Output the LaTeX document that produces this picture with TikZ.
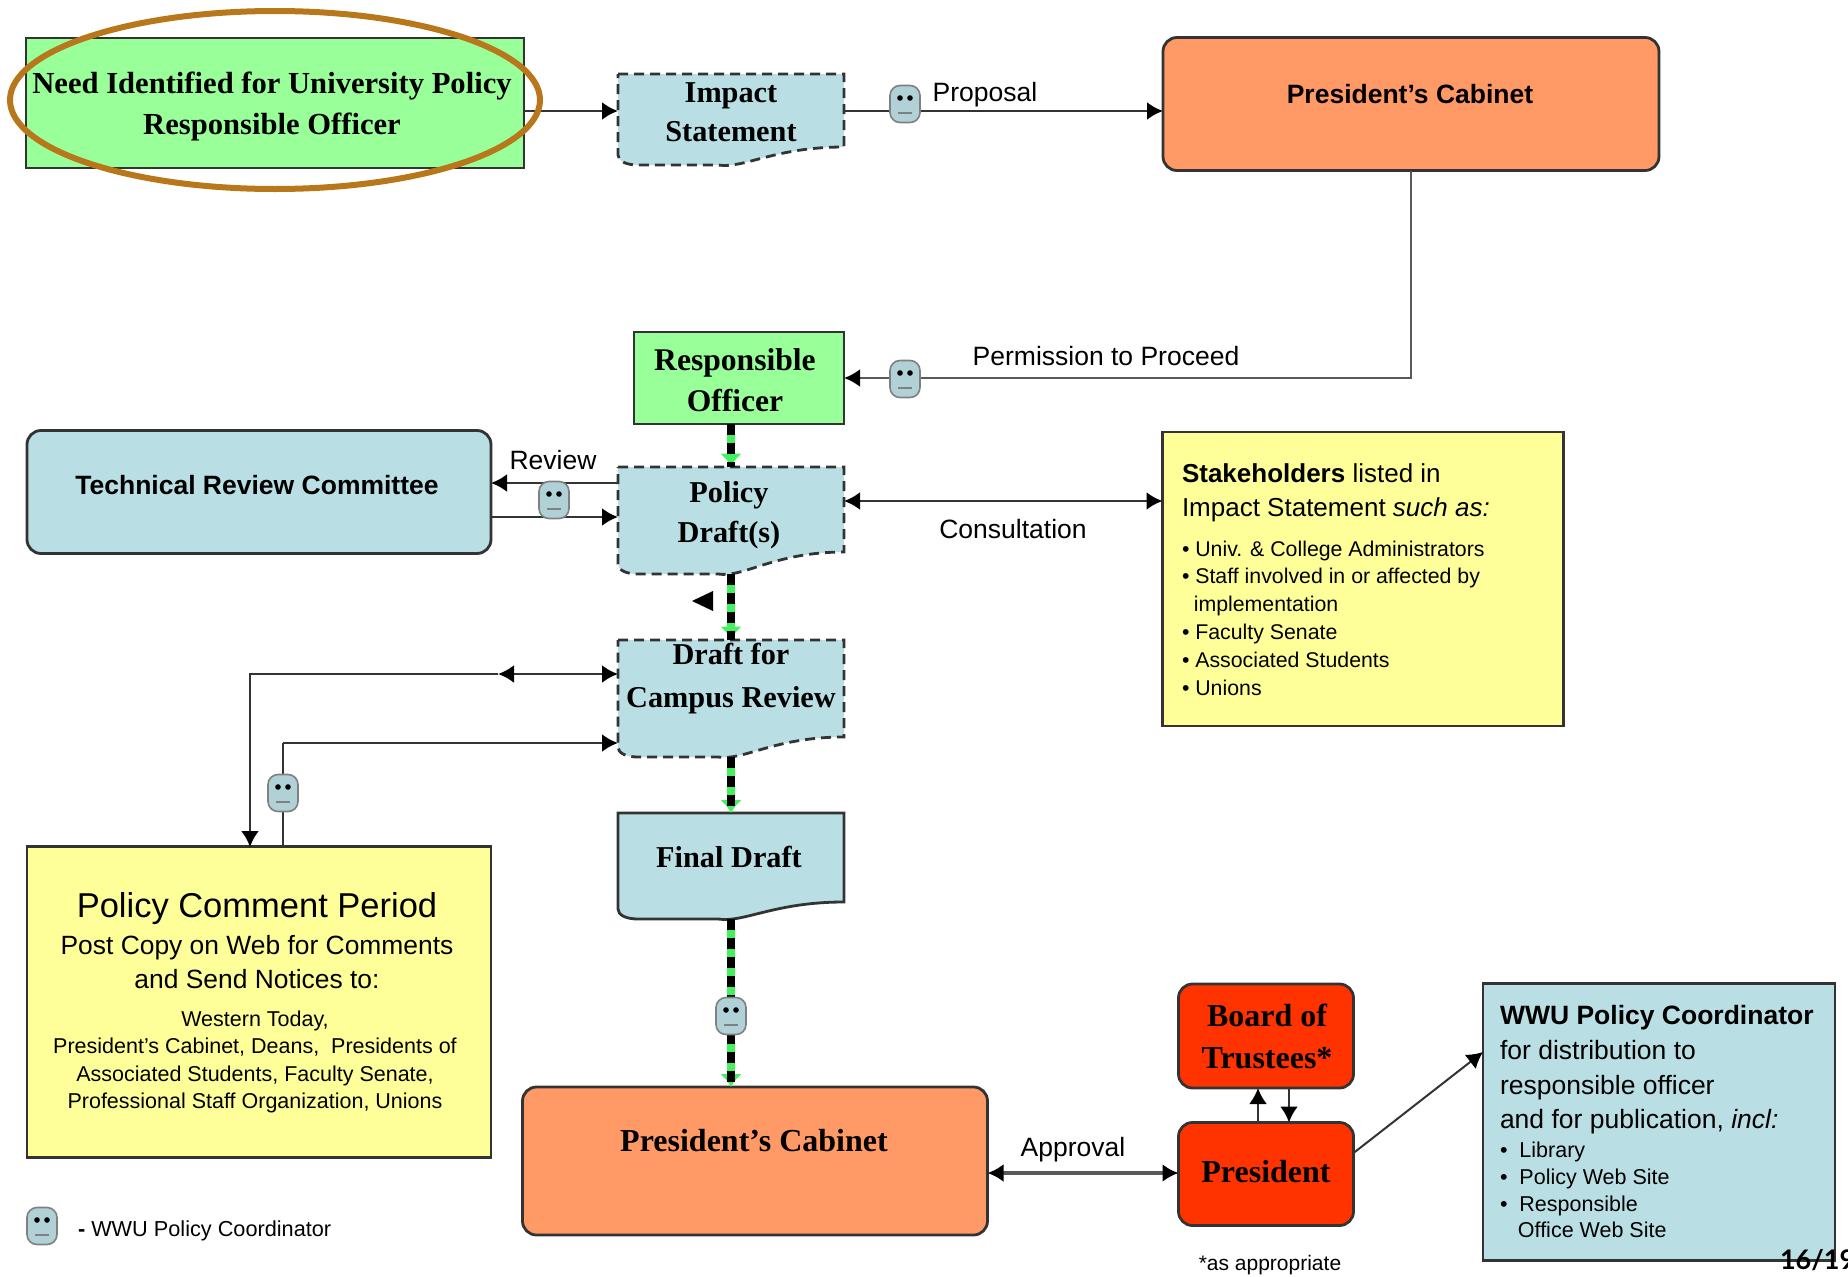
\documentclass[tikz,border=0pt]{standalone}
\usepackage{fontspec}
\usepackage{tikz}
\usetikzlibrary{arrows.meta,shapes.geometric}
\setmainfont{Liberation Serif}
\setsansfont{Liberation Sans}
\newfontfamily\pagefont{Lato}
\definecolor{hiblue}{HTML}{B9DFE4}
\definecolor{higreen}{HTML}{99FF99}
\definecolor{hiorange}{HTML}{FF9966}
\definecolor{hiyellow}{HTML}{FFFF99}
\definecolor{hired}{HTML}{FF3300}
\definecolor{ringbrown}{HTML}{B9771C}
\definecolor{linegray}{HTML}{333333}
\definecolor{stripegreen}{HTML}{44F060}
\newcommand{\wavepath}[6][]{
\draw[draw=linegray,line width=2.8,fill=hiblue,#1] (#2,#3) -- (#4,#3) -- (#4,#6) .. controls (#4-70,#6) and (#4-100,#5+4) .. (#2+100,#5) -- (#2+20,#5) .. controls (#2+8,#5) and (#2,#5-4) .. (#2,#5-10) -- cycle;
}
\newcommand{\fs}[2]{\fontsize{#1}{#2}\selectfont}
\begin{document}
\begin{tikzpicture}[x=1pt,y=-1pt]
\tikzstyle{every node}=[inner sep=0pt,outer sep=0pt];
\tikzstyle{flatbox}=[draw=linegray,line width=2.8,align=center];
\tikzstyle{roundbox}=[flatbox,rounded corners=14];
\tikzstyle{serif}=[align=center];
\tikzstyle{label}=[font=\sffamily\fs{26.5}{30}];
\tikzstyle{dashbox}=[dash pattern=on 10 off 6];
\tikzstyle{arr}=[draw=linegray,line width=2.6,-{Latex[length=16,width=18,black]}];
\tikzstyle{twoarr}=[draw=linegray,line width=2.6,{Latex[length=16,width=18,black]}-{Latex[length=16,width=18,black]}];
\tikzstyle{stripe}=[draw=stripegreen,line width=8,-{Latex[length=13,width=22]},postaction={draw=black,-,dash pattern=on 11 off 8}];
\tikzstyle{face}=[draw=gray,line width=1.6,fill=hiblue!85!gray,rounded corners=10,minimum width=30,minimum height=37,path picture={
\fill[black] ([xshift=-5,yshift=6]path picture bounding box.center) circle (2.8);
\fill[black] ([xshift=5,yshift=6]path picture bounding box.center) circle (2.8);
\draw[gray,line width=2.4] ([xshift=-7,yshift=-9]path picture bounding box.center) -- ([xshift=7,yshift=-9]path picture bounding box.center);
}];
\useasboundingbox (0,0) rectangle (1848,1277);

\node (need) at (275,103) [flatbox,fill=higreen,minimum width=498,minimum height=130] {};
\node (needtext) at (272,106) [serif,font=\rmfamily\bfseries\fs{30.6}{41}] {Need Identified for University Policy\\Responsible Officer};
\wavepath[dashbox]{618}{74}{844}{165}{147}
\node (impact) at (731,119) [minimum width=226,minimum height=91] {};
\node (impacttext) at (731,112) [serif,font=\rmfamily\bfseries\fs{30.3}{39}] {Impact\\Statement};
\node (cabtop) at (1411,104) [roundbox,fill=hiorange,minimum width=496,minimum height=133] {};
\node (cabtoptext) at (1410,94) [font=\sffamily\bfseries\fs{26.5}{30}] {President's Cabinet};
\node (resp) at (739,378) [flatbox,fill=higreen,minimum width=210,minimum height=92] {};
\node (resptext) at (735,380) [serif,font=\rmfamily\bfseries\fs{31.6}{41}] {Responsible\\Officer};
\node (trc) at (259,492) [roundbox,fill=hiblue,minimum width=464,minimum height=123] {};
\node (trctext) at (257,485) [font=\sffamily\bfseries\fs{26.5}{30}] {Technical Review Committee};
\wavepath[dashbox]{618}{467}{844}{574}{552}
\node (policy) at (731,520) [minimum width=226,minimum height=107] {};
\node (policytext) at (729,515) [serif,font=\rmfamily\bfseries\fs{30.3}{40}] {Policy\\Draft(s)};
\node (stake) at (1363,579) [flatbox,fill=hiyellow,minimum width=401,minimum height=294] {};
\node (staketop) at (1182,493) [anchor=west,align=left,font=\sffamily\fs{26}{34.5}] {\textbf{Stakeholders} listed in\\Impact Statement \textit{such as:}};
\node (stakelist) at (1182,618) [anchor=west,align=left,font=\sffamily\fs{21.3}{27.8}] {{\textbullet} Univ. \& College Administrators\\{\textbullet} Staff involved in or affected by\\\ \ implementation\\{\textbullet} Faculty Senate\\{\textbullet} Associated Students\\{\textbullet} Unions};
\wavepath[dashbox]{618}{640}{844}{757}{737}
\node (campus) at (731,698) [minimum width=226,minimum height=117] {};
\node (campustext) at (731,679) [serif,font=\rmfamily\bfseries\fs{30.3}{43}] {Draft for\\Campus Review};
\wavepath{618}{813}{844}{919}{902}
\node (final) at (731,866) [minimum width=226,minimum height=106] {};
\node (finaltext) at (729,857) [serif,font=\rmfamily\bfseries\fs{30.3}{40}] {Final Draft};
\node (comment) at (259,1002) [flatbox,fill=hiyellow,minimum width=464,minimum height=311] {};
\node (commenthead) at (257,909) [font=\sffamily\fs{34.5}{40}] {Policy Comment Period};
\node (commentpost) at (257,962) [align=center,font=\sffamily\fs{26.4}{34}] {Post Copy on Web for Comments\\and Send Notices to:};
\node (commentlist) at (255,1062) [align=center,font=\sffamily\fs{21.5}{27.5}] {Western Today,\\President's Cabinet, Deans,\ \ Presidents of\\Associated Students, Faculty Senate,\\Professional Staff Organization, Unions};
\node (cabbot) at (755,1161) [roundbox,fill=hiorange,minimum width=465,minimum height=148] {};
\node (cabbottext) at (754,1141) [serif,font=\rmfamily\bfseries\fs{32}{40}] {President's Cabinet};
\node (board) at (1266,1036) [roundbox,fill=hired,minimum width=175,minimum height=104] {};
\node (boardtext) at (1267,1036) [serif,font=\rmfamily\bfseries\fs{32}{42}] {Board of\\Trustees*};
\node (pres) at (1266,1174) [roundbox,fill=hired,minimum width=175,minimum height=103] {};
\node (prestext) at (1266,1172) [serif,font=\rmfamily\bfseries\fs{32}{40}] {President};
\node (wwu) at (1659,1122) [flatbox,fill=hiblue,minimum width=352,minimum height=277] {};
\node (wwutop) at (1500,1070) [anchor=west,align=left,font=\sffamily\fs{26.5}{34.7}] {\textbf{WWU Policy Coordinator}\\for distribution to\\responsible officer\\and for publication, \textit{incl:}};
\node (wwulist) at (1500,1190) [anchor=west,align=left,font=\sffamily\fs{21.5}{26.7}] {{\textbullet}\ \ Library\\{\textbullet}\ \ Policy Web Site\\{\textbullet}\ \ Responsible\\\ \ \ Office Web Site};

\coordinate (needline) at (0,111);
\draw[arr] (need.east |- needline) -- (impact.west |- needline);
\draw[arr] (impact.east |- needline) -- (cabtop.west |- needline);
\node (proposal) at (985,95) [label] {Proposal};
\coordinate (bendcab) at (cabtop.south |- resp);
\draw[arr,draw=gray!70!black] (cabtop.south) -- (bendcab) -- (resp.east |- bendcab);
\node (permission) at (1106,356) [label] {Permission to Proceed};
\draw[stripe] (policy.north |- resp.south) -- (policy.north);
\coordinate (reviewup) at (0,483);
\coordinate (reviewdown) at (0,517);
\draw[arr] (policy.west |- reviewup) -- (trc.east |- reviewup);
\draw[arr] (trc.east |- reviewdown) -- (policy.west |- reviewdown);
\node (review) at (553,460) [label] {Review};
\coordinate (consult) at (0,501);
\draw[twoarr] (policy.east |- consult) -- (stake.west |- consult);
\node (consultation) at (1013,529) [label] {Consultation};
\draw[stripe] (policy.south) -- (campus.north);
\fill[black] (692,601) -- (713,591) -- (713,611) -- cycle;
\coordinate (outer) at (498,674);
\draw[twoarr] (campus.west |- outer) -- (outer);
\draw[arr] (outer) -- (250,674) -- (250,847);
\coordinate (inner) at (283,743);
\draw[line width=2.6,draw=linegray] (283,847) -- (inner);
\draw[arr] (inner) -- (campus.west |- inner);
\draw[stripe] (campus.south) -- (final.north);
\draw[stripe] (final.south) -- (final.south |- cabbot.north);
\coordinate (appr) at (0,1173);
\draw[twoarr,draw=gray!70!black,line width=3.5] (cabbot.east |- appr) -- (pres.west |- appr);
\node (approval) at (1073,1150) [label] {Approval};
\draw[arr] ([xshift=-8]pres.north) -- ([xshift=-8]board.south);
\draw[arr] ([xshift=23]board.south) -- ([xshift=23]pres.north);
\coordinate (wwuin) at (wwu.west |- 1483,1052);
\draw[arr,line width=2] ([yshift=21]pres.east) -- (wwuin);
\node (asapp) at (1270,1265) [font=\sffamily\fs{21}{24}] {*as appropriate};
\node (legend) at (78,1231) [anchor=west,font=\sffamily\fs{21.7}{24}] {\textbf{-} WWU Policy Coordinator};
\node (page) at (1780,1260) [anchor=west,font=\pagefont\bfseries\fs{27}{30}] {16/19};

\node (face1) at (905,104) [face] {};
\node (face2) at (905,379) [face] {};
\node (face3) at (554,500) [face] {};
\node (face4) at (283,793) [face] {};
\node (face5) at (731,1016) [face] {};
\node (face6) at (42,1226) [face] {};

\node (ring) at (275,100) [draw=ringbrown,line width=6,ellipse,minimum width=530,minimum height=178] {};
\end{tikzpicture}
\end{document}
